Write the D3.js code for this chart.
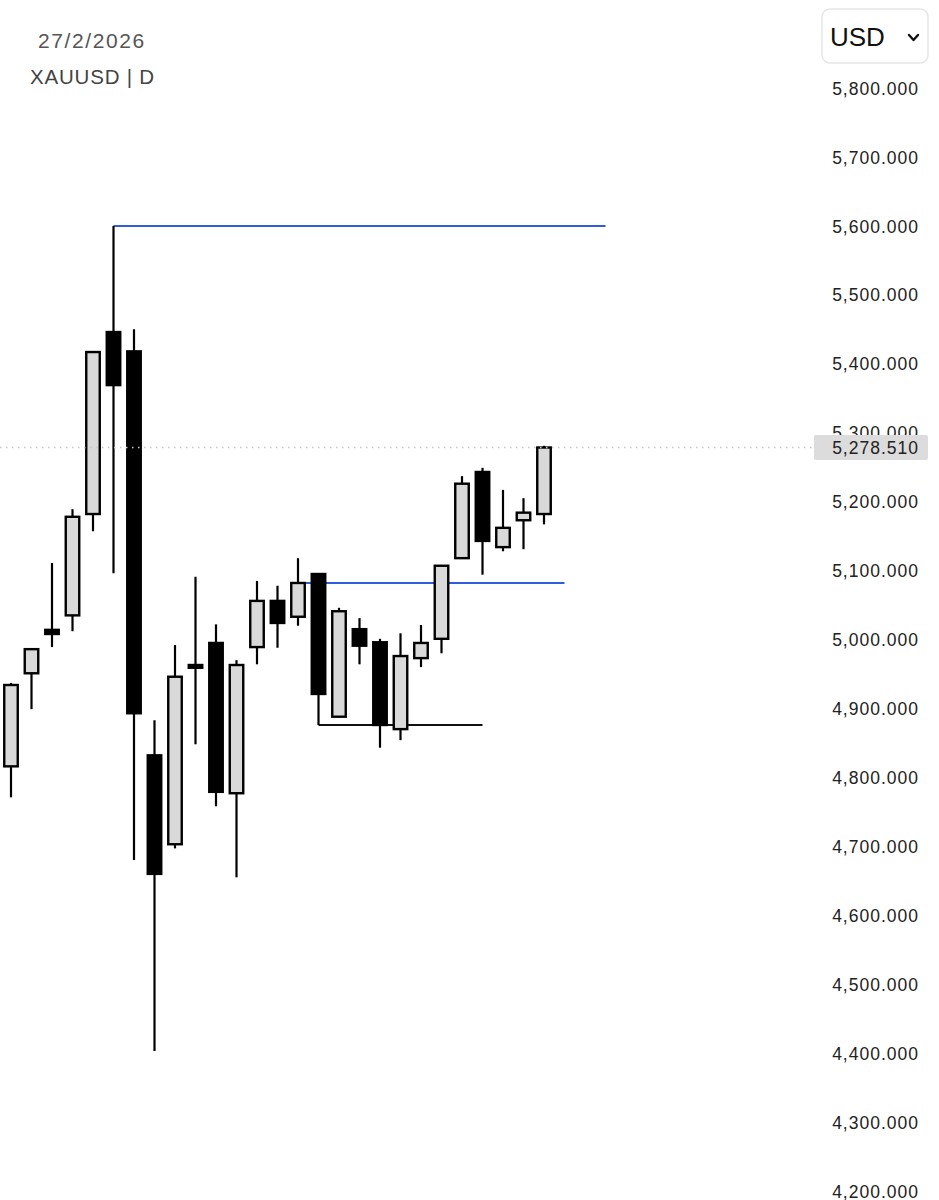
<!DOCTYPE html>
<html lang="en">
<head>
<meta charset="UTF-8">
<script src="https://cdnjs.cloudflare.com/ajax/libs/d3/7.8.5/d3.min.js"></script>
<title>XAUUSD D</title>
<style>
    body{
        margin: 0;
        background: #fff;
    }
    svg{
        display: block;
        font-family: 'Liberation Sans', Arial, sans-serif;
    }
</style>
</head>
<body>
<svg id="chart" width="939" height="1200"></svg>
<script>
    // daily candles, 22 Jan - 27 Feb 2026
    var dates = ["22/1","23/1","26/1","27/1","28/1","29/1","30/1","2/2","3/2","4/2","5/2","6/2","9/2","10/2",
                 "11/2","12/2","13/2","16/2","17/2","18/2","19/2","20/2","23/2","24/2","25/2","26/2","27/2"];
    var opens  = [4816,4951,5014,5035,5182,5446,5418,4832,4703,4963,4995,4777,4989,5056,5033,5095,4888,5015,4996,4870,4973,5001,5118,5243,5134,5173,5182];
    var highs  = [4937,4987,5111,5189,5418,5600,5450,4883,4992,5091,5022,4970,5085,5078,5118,5096,5046,5031,5001,5009,5021,5107,5237,5249,5217,5205,5281];
    var lows   = [4771,4899,4989,5012,5157,5096,4680,4403,4697,4848,4758,4655,4964,4988,5020,4876,4887,4964,4843,4854,4960,4980,5117,5094,5128,5131,5167];
    var closes = [4934,4986,5008,5178,5417,5369,4893,4660,4946,4959,4779,4963,5056,5024,5082,4921,5041,4991,4876,4976,4995,5107,5226,5143,5162,5184,5278.51];

    // drawn levels: [price, start index, end index]
    var levelPrices = [5600, 5082, 4876];
    var levelFrom   = [5, 14, 15];
    var levelTo     = [29, 27, 23];
    var levelColors = ["#2f5ce0", "#2f5ce0", "#111"];

    var yTicks = d3.range(4200, 5801, 100);
    var lastPrice = 5278.51;

    var svg = d3.select("#chart");
    var x = d3.scaleLinear().domain([0, dates.length - 1]).range([11, 544]);
    var y = d3.scaleLinear().domain([4200, 5800]).range([1191, 88]);
    var fmt = d3.format(",.3f");

    // header text
    svg.append("text").attr("x", 38).attr("y", 48)
        .style("font-size", "21px").style("fill", "#555").style("letter-spacing", "1.6px")
        .text("27/2/2026");
    svg.append("text").attr("x", 30).attr("y", 84)
        .style("font-size", "20.5px").style("fill", "#444").style("letter-spacing", "0.8px")
        .text("XAUUSD | D");

    // currency button
    svg.append("rect").attr("x", 822).attr("y", 9).attr("width", 106).attr("height", 54).attr("rx", 8)
        .style("fill", "#fff").style("stroke", "#e6e6e6").style("stroke-width", 1.5);
    svg.append("text").attr("x", 830).attr("y", 46)
        .style("font-size", "26px").style("fill", "#111")
        .text("USD");
    svg.append("path").attr("d", "M909,35 L913.5,40 L918,35")
        .style("fill", "none").style("stroke", "#111").style("stroke-width", 2.4)
        .style("stroke-linecap", "round").style("stroke-linejoin", "round");

    // price axis
    var yAxis = d3.axisRight(y).tickValues(yTicks).tickFormat(fmt).tickSize(0).tickPadding(0);
    var ax = svg.append("g").attr("transform", "translate(919,0)").call(yAxis);
    ax.select(".domain").remove();
    ax.selectAll("text")
        .attr("text-anchor", "end")
        .attr("dy", "0.35em")
        .style("font-family", "'Liberation Sans', Arial, sans-serif")
        .style("font-size", "17.5px").style("letter-spacing", "1px")
        .style("fill", "#222");

    // levels
    svg.selectAll(".level")
        .data(levelPrices)
        .enter()
        .append("line")
            .attr("class", "level")
            .attr("x1", (d, i) => x(levelFrom[i]))
            .attr("x2", (d, i) => x(levelTo[i]))
            .attr("y1", d => y(d))
            .attr("y2", d => y(d))
            .style("stroke", (d, i) => levelColors[i])
            .style("stroke-width", 2);

    var candles = dates.map((d, i) => ({ i: i, o: opens[i], h: highs[i], l: lows[i], c: closes[i] }));
    var bodyW = 13.5;

    var g = svg.append("g");
    g.selectAll(".wick")
        .data(candles)
        .enter()
        .append("line")
            .attr("x1", d => x(d.i))
            .attr("x2", d => x(d.i))
            .attr("y1", d => y(d.h))
            .attr("y2", d => y(d.l))
            .style("stroke", "#000")
            .style("stroke-width", 2.2);

    g.selectAll(".body")
        .data(candles)
        .enter()
        .append("rect")
            .attr("x", d => x(d.i) - bodyW / 2)
            .attr("width", bodyW)
            .attr("y", d => y(Math.max(d.o, d.c)))
            .attr("height", d => Math.max(1.5, Math.abs(y(d.o) - y(d.c))))
            .style("fill", d => d.c >= d.o ? "#d9d9d9" : "#000")
            .style("stroke", "#000")
            .style("stroke-width", 2.4);

    // last price line and label
    svg.append("line")
        .attr("x1", 0).attr("x2", 812)
        .attr("y1", y(lastPrice)).attr("y2", y(lastPrice))
        .style("stroke", "#c8c8c8").style("stroke-width", 1.5)
        .style("stroke-dasharray", "1.5,4.5");
    svg.append("rect")
        .attr("x", 814).attr("y", y(lastPrice) - 12.5).attr("width", 114).attr("height", 25).attr("rx", 2)
        .style("fill", "#dcdcdc");
    svg.append("text")
        .attr("x", 919).attr("y", y(lastPrice)).attr("dy", "0.35em")
        .attr("text-anchor", "end")
        .style("font-size", "17.5px").style("letter-spacing", "1px").style("fill", "#222")
        .text(fmt(lastPrice));
</script>
</body>
</html>
